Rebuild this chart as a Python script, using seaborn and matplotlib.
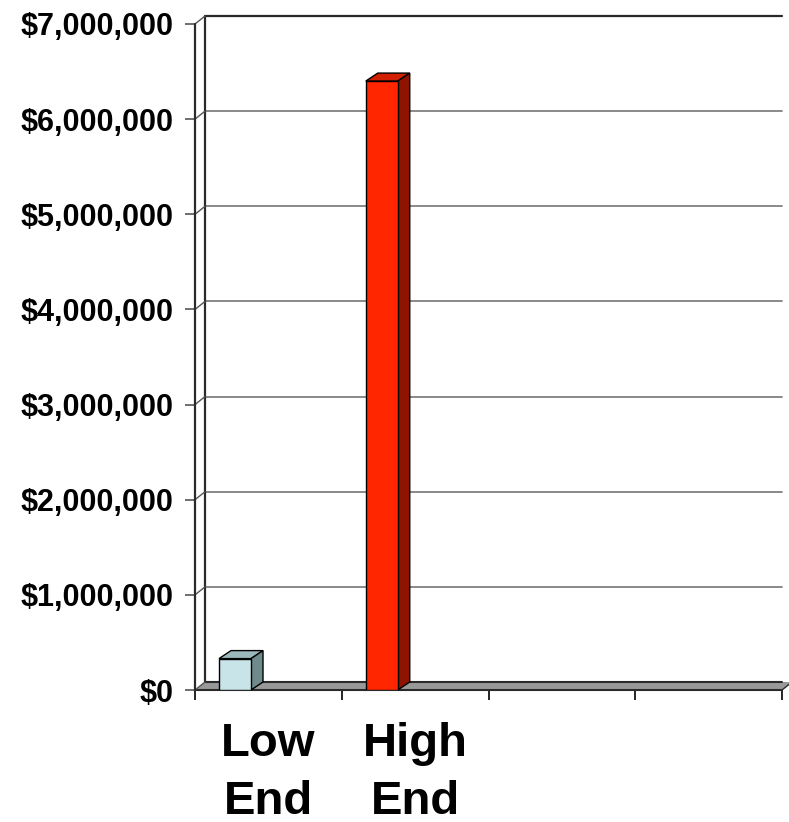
import matplotlib
matplotlib.use("Agg")
import matplotlib.pyplot as plt
from matplotlib.patches import Polygon
from matplotlib.ticker import FuncFormatter
import seaborn as sns

# Chart data
categories = ["Low End", "High End"]
values = [330000, 6400000]
tick_labels = ["Low\nEnd", "High\nEnd"]
n_slots = 4
y_max = 7000000
y_step = 1000000

front_colors = ["#C8E4E8", "#FF2600"]
top_colors = ["#9DB8BC", "#D02000"]
side_colors = ["#6E8A8A", "#8E1400"]

sns.set_theme(style="white")
plt.rcParams["font.family"] = ["Liberation Sans", "DejaVu Sans"]
plt.rcParams["text.color"] = "black"
plt.rcParams["xtick.color"] = "black"
plt.rcParams["ytick.color"] = "black"

W, H = 789, 822
fig = plt.figure(figsize=(W / 100, H / 100), dpi=100)
ax = fig.add_axes([195 / W, 132 / H, 587 / W, 666 / H])

sns.barplot(x=categories, y=values, hue=categories, palette=front_colors,
            width=0.218, legend=False, ax=ax, edgecolor="black",
            linewidth=1.0, zorder=5, saturation=1)
bars = list(ax.patches)

x0 = -0.2726
ax.set_xlim(x0, x0 + n_slots)
ax.set_ylim(0, y_max)
for s in ax.spines.values():
    s.set_visible(False)
ax.grid(False)

# pixel -> data conversions
px_x = n_slots / 587.0
px_y = y_max / 666.0

def to_data(dx_px, dy_px):
    return dx_px * px_x, dy_px * px_y

wall_dx, wall_dy = to_data(10, 8)
bar_dx, bar_dy = to_data(12, 8)
x_right_back = x0 + (W - 205) / 587.0 * n_slots + 0.02
dark = "#2a2a2a"

# floor
floor = Polygon([(x0, 0), (x0 + n_slots, 0), (x0 + n_slots + wall_dx, wall_dy),
                 (x0 + wall_dx, wall_dy)], closed=True, facecolor="#999999",
                edgecolor="none", zorder=2, clip_on=False)
ax.add_patch(floor)
ax.plot([x0, x0 + n_slots], [0, 0], color=dark, lw=1.5, zorder=3, clip_on=False)
ax.plot([x0 + wall_dx, x_right_back], [wall_dy, wall_dy], color=dark, lw=1.5,
        zorder=3, clip_on=False)
ax.plot([x0 + n_slots, x0 + n_slots + wall_dx], [0, wall_dy], color=dark, lw=1.0,
        zorder=3, clip_on=False)

# back wall gridlines and connectors
levels = list(range(y_step, y_max + 1, y_step))
for v in levels:
    top = v == y_max
    ax.plot([x0 + wall_dx, x_right_back], [v + wall_dy, v + wall_dy],
            color=dark if top else "#808080", lw=1.6 if top else 1.3,
            zorder=1, clip_on=False)
for v in [0] + levels:
    ax.plot([x0, x0 + wall_dx], [v, v + wall_dy], color="#555555", lw=1.0,
            zorder=3, clip_on=False)
ax.plot([x0 + wall_dx, x0 + wall_dx], [wall_dy, y_max + wall_dy], color=dark,
        lw=1.6, zorder=1, clip_on=False)
ax.plot([x0, x0], [0, y_max], color=dark, lw=1.6, zorder=6, clip_on=False)

# 3D faces on each bar
for patch, tc, sc in zip(bars, top_colors, side_colors):
    bx = patch.get_x()
    bw = patch.get_width()
    bh = patch.get_height()
    top_face = Polygon([(bx, bh), (bx + bw, bh), (bx + bw + bar_dx, bh + bar_dy),
                        (bx + bar_dx, bh + bar_dy)], closed=True, facecolor=tc,
                       edgecolor="black", lw=1.0, zorder=4, clip_on=False)
    side_face = Polygon([(bx + bw, 0), (bx + bw + bar_dx, bar_dy),
                         (bx + bw + bar_dx, bh + bar_dy), (bx + bw, bh)],
                        closed=True, facecolor=sc, edgecolor="black", lw=1.0,
                        zorder=4, clip_on=False)
    ax.add_patch(top_face)
    ax.add_patch(side_face)

# y axis
ax.set_yticks([0] + levels)
ax.yaxis.set_major_formatter(FuncFormatter(lambda v, p: f"${v:,.0f}"))
ax.tick_params(axis="y", which="major", left=True, length=7.2, width=1.2,
               color="#555555", pad=8, labelsize=22, labelcolor="black")
for t in ax.get_yticklabels():
    t.set_fontweight("bold")

# x axis: labels centred in slots, tick marks on slot boundaries
slot_centres = [x0 + 0.5 + i for i in range(len(tick_labels))]
ax.set_xticks(slot_centres)
ax.set_xticklabels(tick_labels, fontsize=34, fontweight="bold", linespacing=1.4,
                   color="black")
ax.set_xticks([x0 + k for k in range(n_slots + 1)], minor=True)
ax.tick_params(axis="x", which="major", bottom=False, length=0, pad=23)
ax.tick_params(axis="x", which="minor", bottom=True, length=7.2, width=1.2,
               color="black")
ax.set_xlabel("")
ax.set_ylabel("")

fig.savefig("out.png", dpi=100)
